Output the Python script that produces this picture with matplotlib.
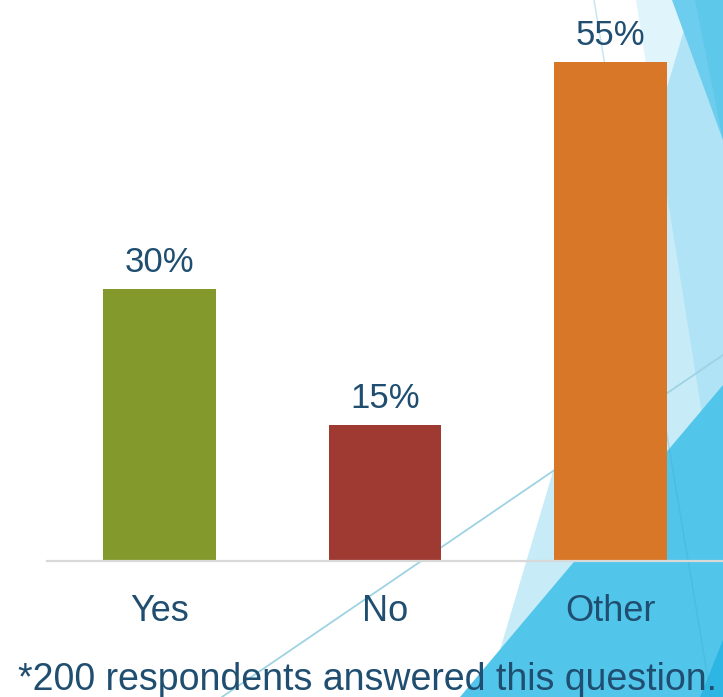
import matplotlib

matplotlib.use("Agg")
import matplotlib.pyplot as plt
from matplotlib.patches import Polygon
from matplotlib.lines import Line2D


categories = ["Yes", "No", "Other"]
shares = [30, 15, 55]
value_labels = ["30%", "15%", "55%"]
footnote = "*200 respondents answered this question."

BAR_COLORS = ["#84992B", "#9F3A33", "#D87728"]
TEXT_COLOR = "#1F4E70"
W, H = 723, 697


def to_fig(points):
    # pixel positions (origin top-left) -> figure fraction
    return [(x / W, 1 - y / H) for x, y in points]


def add_facet(fig, points, color, alpha=1.0):
    fig.add_artist(Polygon(to_fig(points), closed=True, facecolor=color, edgecolor="none",
                           alpha=alpha, transform=fig.transFigure, zorder=-5))


def add_rule(fig, p0, p1, color, lw, alpha=1.0):
    (x0, y0), (x1, y1) = to_fig([p0, p1])
    fig.add_artist(Line2D([x0, x1], [y0, y1], color=color, lw=lw, alpha=alpha,
                          transform=fig.transFigure, zorder=-4))


def draw_background(fig):
    add_facet(fig, [(636, 0), (723, 0), (723, 546)], "#29B6E6", 0.15)
    add_facet(fig, [(693, 0), (723, 0), (723, 697), (486, 697)], "#29B6E6", 0.26)
    add_facet(fig, [(672, 0), (723, 0), (723, 140)], "#6DCDEE")
    add_facet(fig, [(695, 0), (723, 0), (723, 140)], "#5EC8EB")
    add_facet(fig, [(723, 385), (723, 697), (460, 697)], "#52C5EB")
    add_facet(fig, [(700, 697), (723, 697), (723, 640)], "#2DB5E4")
    add_rule(fig, (222, 697), (723, 355), "#9ED3E3", 1.3)
    add_rule(fig, (594, 0), (711, 697), "#3BA9D0", 1.0, 0.3)


def create_plot(output_path):
    fig = plt.figure(figsize=(W / 100, H / 100), dpi=100)
    draw_background(fig)

    ax = fig.add_axes([47 / W, 136 / H, 676 / W, 561 / H])
    ax.patch.set_alpha(0)

    x = range(len(categories))
    bars = ax.bar(x, shares, width=0.5, color=BAR_COLORS, zorder=2)
    for bar, label in zip(bars, value_labels):
        ax.annotate(label, (bar.get_x() + bar.get_width() / 2, bar.get_height()),
                    xytext=(0, 12), textcoords="offset points", ha="center", va="baseline",
                    fontsize=25, color=TEXT_COLOR, family="Liberation Sans")

    ax.set_xlim(-0.5, 2.5)
    ax.set_ylim(0, 61.85)
    ax.set_xticks(list(x))
    ax.set_xticklabels(categories, fontsize=26, color=TEXT_COLOR, family="Liberation Sans")
    ax.tick_params(axis="x", length=0, pad=24)
    ax.set_yticks([])
    for side in ("left", "right", "top"):
        ax.spines[side].set_visible(False)
    ax.spines["bottom"].set_color("#D9D9D9")
    ax.spines["bottom"].set_linewidth(1.6)

    fig.text(18 / W, 1 - 690 / H, footnote, ha="left", va="baseline", fontsize=27,
             color=TEXT_COLOR, family="Liberation Sans")

    fig.savefig(output_path, dpi=100)
    plt.close(fig)


if __name__ == "__main__":
    create_plot("out.png")
